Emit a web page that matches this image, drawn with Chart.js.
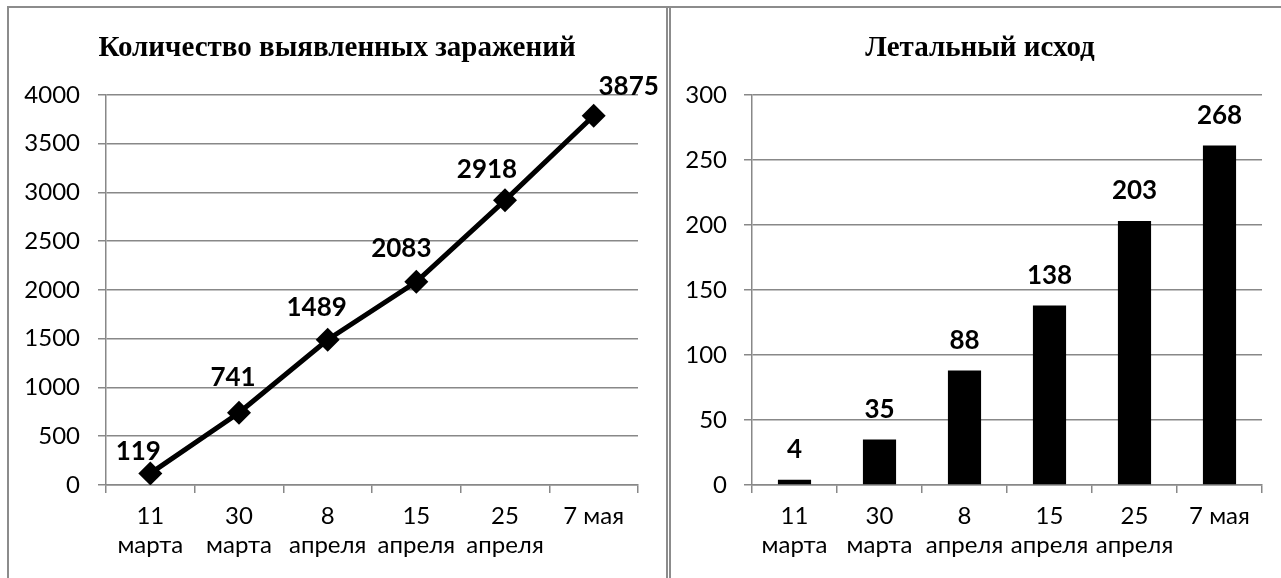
<!DOCTYPE html>
<html>
<head>
<meta charset="utf-8">
<script src="https://cdn.jsdelivr.net/npm/chart.js@4/dist/chart.umd.min.js"></script>
<style>
  body { margin: 0; background: #fff; width: 1281px; height: 578px; overflow: hidden; position: relative; }
  canvas { position: absolute; top: 0; }
  .rule { position: absolute; background: #8c8c8c; }
</style>
</head>
<body>
<canvas id="cases" width="666" height="578" style="left:0"></canvas>
<canvas id="deaths" width="610" height="578" style="left:671px"></canvas>
<div class="rule" style="left:7px;top:6px;width:1274px;height:2px"></div>
<div class="rule" style="left:7px;top:6px;width:2px;height:572px"></div>
<div class="rule" style="left:666px;top:7px;width:2px;height:571px"></div>
<div class="rule" style="left:669px;top:7px;width:2px;height:571px"></div>
<script>
const dates = [['11', 'марта'], ['30', 'марта'], ['8', 'апреля'], ['15', 'апреля'], ['25', 'апреля'], '7 мая']

// infections: where the markers sit, and the numbers printed next to them
const casesValues = [119, 741, 1489, 2083, 2918, 3785]
const casesLabels = ['119', '741', '1489', '2083', '2918', '3875']
const casesMax = 4000
const casesStep = 500

// deaths: bar heights and printed numbers
const deathsValues = [4, 35, 88, 138, 203, 261]
const deathsLabels = ['4', '35', '88', '138', '203', '268']
const deathsMax = 300
const deathsStep = 50

const gray = '#888888'
const tickFont = { family: 'Lato', size: 24, lineHeight: 1.2 }

// prints the value text near each point / bar
const valueLabels = {
    id: 'valueLabels',
    afterDatasetsDraw(chart, args, opts) {
        const ctx = chart.ctx
        const meta = chart.getDatasetMeta(0)
        ctx.save()
        ctx.font = 'bold 26px Lato'
        ctx.fillStyle = '#000'
        ctx.textAlign = 'center'
        ctx.textBaseline = 'middle'
        meta.data.forEach((el, i) => {
            const dx = opts.dx ? opts.dx[i] : 0
            const dy = opts.dy ? opts.dy[i] : opts.offset
            ctx.fillText(opts.texts[i], el.x + dx, el.y + dy)
        })
        ctx.restore()
    }
}

const makeScales = (max, step, yWidth, rightWidth, tickPad) => ({
    x: {
        offset: true,
        grid: { offset: true, drawOnChartArea: false, color: gray, lineWidth: 1.5, tickLength: 8 },
        border: { color: gray, width: 1.5 },
        ticks: { color: '#000', font: tickFont, padding: 9, maxRotation: 0, autoSkip: false },
        afterFit: s => { s.height = 93 }
    },
    y: {
        min: 0,
        max: max,
        grid: { color: gray, lineWidth: 1.5, tickLength: 8 },
        border: { color: gray, width: 1.5 },
        ticks: { stepSize: step, color: '#000', font: tickFont, padding: tickPad, callback: v => String(v) },
        afterFit: s => { s.width = yWidth }
    },
    // empty right axis, only reserves room so the title stays centred like the original
    yPad: {
        type: 'linear',
        position: 'right',
        grid: { drawOnChartArea: false, drawTicks: false },
        border: { display: false },
        ticks: { display: false },
        afterFit: s => { s.width = rightWidth }
    }
})

const titleOpts = text => ({
    display: true,
    text: text,
    color: '#000',
    font: { family: 'Liberation Serif', weight: 'bold', size: 29 },
    padding: { top: 31, bottom: 29 }
})

new Chart(document.getElementById('cases'), {
    type: 'line',
    data: {
        labels: dates,
        datasets: [{
            data: casesValues,
            borderColor: '#000',
            borderWidth: 5,
            pointStyle: 'rectRot',
            pointRadius: 12,
            pointBackgroundColor: '#000',
            pointBorderWidth: 0,
            tension: 0
        }]
    },
    options: {
        responsive: false,
        animation: false,
        layout: { padding: { left: 8, right: 0, top: 0, bottom: 0 } },
        scales: makeScales(casesMax, casesStep, 98, 28, 18),
        plugins: {
            legend: { display: false },
            tooltip: { enabled: false },
            title: titleOpts('Количество выявленных заражений'),
            valueLabels: {
                texts: casesLabels,
                dx: [-12, -6, -11, -15, -18, 35],
                dy: [-22, -35, -32, -33, -31, -29]
            }
        }
    },
    plugins: [valueLabels]
})

new Chart(document.getElementById('deaths'), {
    type: 'bar',
    data: {
        labels: dates,
        datasets: [{
            data: deathsValues,
            backgroundColor: '#000',
            categoryPercentage: 1,
            barPercentage: 0.39
        }]
    },
    options: {
        responsive: false,
        animation: false,
        layout: { padding: { left: 8, right: 0, top: 0, bottom: 0 } },
        scales: makeScales(deathsMax, deathsStep, 73, 19, 17),
        plugins: {
            legend: { display: false },
            tooltip: { enabled: false },
            title: titleOpts('Летальный исход'),
            valueLabels: { texts: deathsLabels, offset: -30 }
        }
    },
    plugins: [valueLabels]
})
</script>
</body>
</html>
